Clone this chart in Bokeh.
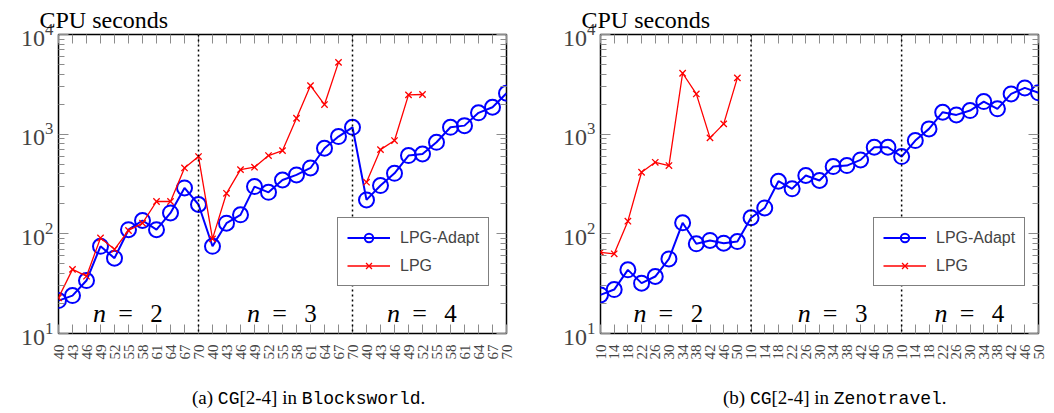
import math
from bokeh.plotting import figure
from bokeh.models import (LogAxis, LinearAxis, FixedTicker, Span, Legend,
                          LegendItem, Div, Range1d, ColumnDataSource)
from bokeh.layouts import column, row
from bokeh.embed import file_html
from bokeh.resources import INLINE
from bokeh.core.properties import value

nan = float("nan")

# ---------------- data ----------------
bw_ticks = ["40", "43", "46", "49", "52", "55", "58", "61", "64", "67", "70"] * 3
bw_adapt = [21.4, 24, 34, 75, 57, 110, 136, 110, 162, 289, 197,
            75, 128, 155, 298, 261, 347, 390, 458, 722, 946, 1172,
            219, 305, 405, 610, 632, 829, 1172, 1218, 1636, 1862, 2573]
bw_lpg = [22.8, 44, 37.6, 91, 70, 108, 128, 211, 211, 458, 596,
          89, 255, 441, 466, 610, 684, 1444, 3070, 1982, 5250, nan,
          330, 700, 863, 2478, 2500, nan, nan, nan, nan, nan, nan]
bw_sep = [10, 21]
bw_n_x = [5, 16, 26]

zt_ticks = ["10", "14", "18", "22", "26", "30", "34", "38", "42", "46", "50"] * 3
zt_adapt = [24.4, 27.6, 43.5, 32, 37.3, 56, 129, 79.4, 85.8, 80.6, 83.7,
            145, 182, 337, 283, 385, 343, 473, 484, 552, 739, 739,
            596, 863, 1130, 1660, 1560, 1725, 2124, 1795, 2535, 2911, 2600]
zt_lpg = [65.3, 63, 134, 415, 522, 484, 4085, 2535, 918, 1268, 3673] + [nan] * 22
zt_sep = [11, 22]
zt_n_x = [5, 17, 27]

n_vals = ["2", "3", "4"]
n_y = 15.8
series_names = ["LPG-Adapt", "LPG"]
y_title = "CPU seconds"

y_major = [10, 100, 1000, 10000]
y_minor = [m * 10 ** e for e in (1, 2, 3) for m in range(2, 10)]

SERIF = "Liberation Serif"
SANS = "Liberation Sans"
TICK_GREY = "#8c8c8c"


def make_panel(ticks, adapt, lpg, sep, n_x, mbl, mbr, width, legend_loc):
    idx = list(range(len(ticks)))
    p = figure(width=width, height=365, x_range=Range1d(0, len(ticks) - 1),
               y_range=Range1d(10, 10000), y_axis_type="log",
               output_backend="svg", toolbar_location=None,
               min_border_left=mbl, min_border_right=mbr,
               min_border_top=34, min_border_bottom=32)
    p.grid.visible = False
    p.outline_line_color = "black"
    p.outline_line_width = 1.5
    p.background_fill_color = "white"
    p.border_fill_color = "white"

    p.title.text = y_title
    p.title.text_font = SERIF
    p.title.text_font_size = "24px"
    p.title.text_font_style = "normal"
    p.title.text_color = "black"
    p.title.align = "left"
    p.title.offset = -19
    p.title.standoff = 4

    xt = FixedTicker(ticks=idx, minor_ticks=[])
    yt = FixedTicker(ticks=y_major, minor_ticks=y_minor)

    xa = p.xaxis[0]
    xa.ticker = xt
    xa.major_label_overrides = {i: t for i, t in enumerate(ticks)}
    xa.major_label_orientation = math.pi / 2
    xa.major_label_text_font = SERIF
    xa.major_label_text_font_size = "15px"
    xa.major_label_standoff = 11

    ya = p.yaxis[0]
    ya.ticker = yt
    ya.major_label_text_font = SERIF
    ya.major_label_text_font_size = "24px"
    ya.major_label_standoff = 5

    top = LinearAxis(ticker=xt, major_label_overrides={i: "" for i in idx},
                     major_label_text_font_size="1px", major_label_standoff=0)
    right = LogAxis(ticker=yt, major_label_overrides={v: "" for v in y_major},
                    major_label_text_font_size="1px", major_label_standoff=0)
    p.add_layout(top, "above")
    p.add_layout(right, "right")

    for a in (xa, top):
        a.axis_line_color = None
        a.major_tick_in = 9
        a.major_tick_out = 0
        a.minor_tick_in = 0
        a.minor_tick_out = 0
        a.major_tick_line_color = TICK_GREY
        a.major_tick_line_width = 1
    for a in (ya, right):
        a.axis_line_color = None
        a.major_tick_in = 10
        a.major_tick_out = 0
        a.minor_tick_in = 6
        a.minor_tick_out = 0
        a.major_tick_line_color = TICK_GREY
        a.minor_tick_line_color = TICK_GREY
        a.major_tick_line_width = 1
        a.minor_tick_line_width = 1

    for s in sep:
        p.add_layout(Span(location=s, dimension="height", line_color="black",
                          line_dash="2 3", line_width=1.5))

    src = ColumnDataSource(dict(x=idx, a=adapt, l=lpg))
    bl = p.line("x", "a", source=src, line_color="blue", line_width=2)
    bs = p.scatter("x", "a", source=src, marker="circle", size=15,
                   line_color="blue", line_width=2, fill_color=None)
    rl = p.line("x", "l", source=src, line_color="red", line_width=1.3)
    rs = p.scatter("x", "l", source=src, marker="x", size=9,
                   line_color="red", line_width=1.3)

    nsrc = ColumnDataSource(dict(x=n_x, y=[n_y] * len(n_x), d=n_vals))
    p.text("x", "y", source=nsrc, text=value("n"), x_offset=-29,
           text_align="center", text_baseline="alphabetic",
           text_font=value(SERIF), text_font_style="italic",
           text_font_size="26px", text_color="black")
    p.text("x", "y", source=nsrc, text=value("="), x_offset=-3,
           text_align="center", text_baseline="alphabetic",
           text_font=value(SERIF), text_font_size="26px", text_color="black")
    p.text("x", "y", source=nsrc, text="d", x_offset=28,
           text_align="center", text_baseline="alphabetic",
           text_font=value(SERIF), text_font_size="25px", text_color="black")

    leg = Legend(items=[LegendItem(label=series_names[0], renderers=[bl, bs]),
                        LegendItem(label=series_names[1], renderers=[rl, rs])],
                 location=legend_loc)
    leg.border_line_color = "black"
    leg.border_line_width = 1.5
    leg.background_fill_color = "white"
    leg.background_fill_alpha = 1
    leg.label_text_font = SANS
    leg.label_text_font_size = "16px"
    leg.glyph_width = 43
    leg.glyph_height = 21
    leg.label_standoff = 10
    leg.padding = 9
    leg.spacing = 7
    leg.margin = 0
    p.add_layout(leg)
    return p


# page body has no margin: left frame 58..506, right frame 600..1038
p1 = make_panel(bw_ticks, bw_adapt, bw_lpg, bw_sep, bw_n_x, 58, 44, 550, (279, 47))
p2 = make_panel(zt_ticks, zt_adapt, zt_lpg, zt_sep, zt_n_x, 50, 16, 504, (273, 47))

mono = "font-family:'Liberation Mono';font-size:18px"
cap_html = (
    "<div style=\"position:relative;width:1054px;height:40px;"
    "font-family:'Liberation Serif';font-size:19px;color:#000;\">"
    "<span style=\"position:absolute;left:187px;top:14px;white-space:nowrap\">"
    "(a) <span style=\"" + mono + "\">CG</span>[2-4] in "
    "<span style=\"" + mono + "\">Blocksworld</span>.</span>"
    "<span style=\"position:absolute;left:718px;top:14px;white-space:nowrap\">"
    "(b) <span style=\"" + mono + "\">CG</span>[2-4] in "
    "<span style=\"" + mono + "\">Zenotravel</span>.</span>"
    "</div>"
)
cap = Div(text=cap_html, width=1054, height=44)

layout = column(row(p1, p2), cap)
open("out.html", "w").write(file_html(layout, INLINE))
